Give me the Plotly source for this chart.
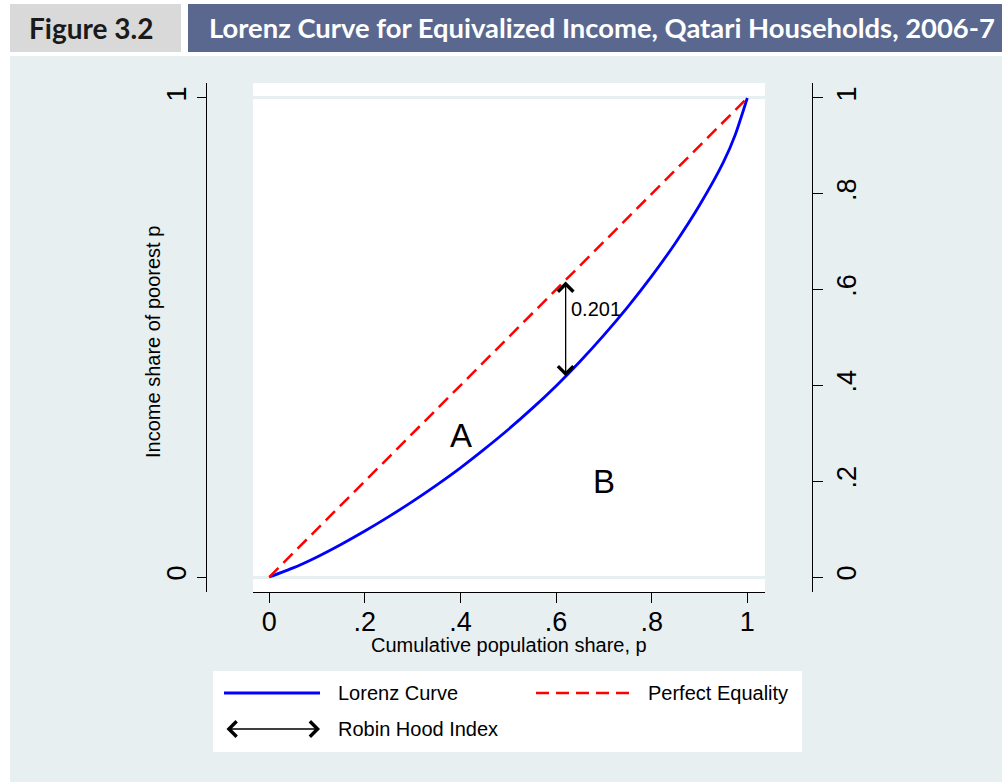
import plotly.graph_objects as go

# Lorenz curve: cumulative population share vs. cumulative income share
pop_share = [0, .05, .10, .15, .20, .25, .30, .35, .40, .45, .50, .55,
             .60, .65, .70, .75, .80, .85, .90, .95, .975, 1.0]
income_share = [0, .019, .042, .068, .096, .126, .158, .192, .228, .267, .308, .352,
                .399, .450, .505, .564, .628, .698, .776, .866, .924, 1.0]

# Line of perfect equality
equality_x = [0, 1]
equality_y = [0, 1]

# Robin Hood index: largest vertical gap between the two lines
robin_hood_p = 0.62
robin_hood_index = 0.201

# Region labels
region_labels = ["A", "B"]
region_x = [0.402, 0.70]
region_y = [0.296, 0.200]

x_ticks = [0, .2, .4, .6, .8, 1]
x_tick_labels = ["0", ".2", ".4", ".6", ".8", "1"]
left_ticks = [0, 1]
left_tick_labels = ["0", "1"]
right_ticks = [0, .2, .4, .6, .8, 1]
right_tick_labels = ["0", ".2", ".4", ".6", ".8", "1"]

fig_title = "Lorenz Curve for Equivalized Income, Qatari Households, 2006-7"
fig_number = "Figure 3.2"
x_title = "Cumulative population share, p"
y_title = "Income share of poorest p"

# Page geometry (pixels)
W, H = 1002, 782
ML, MR, MT, MB = 206, 190, 83, 190
PW, PH = W - ML - MR, H - MT - MB

def px(x):
    return (x - ML) / PW

def py(y):
    return (H - MB - y) / PH

PAGE_BG = "#e8eff1"
HEADER_GREY = "#d9d9d9"
HEADER_BLUE = "#5a6890"
FONT = "Liberation Sans, Arial, sans-serif"
HEAD_FONT = "Lato, sans-serif"
RED_DASH = "13px,7px"

fig = go.Figure()

fig.add_trace(go.Scatter(
    x=pop_share, y=income_share, mode="lines", name="Lorenz Curve",
    line=dict(color="#0000ff", width=2.8, shape="spline", smoothing=0.6),
    showlegend=False, hoverinfo="skip"))

fig.add_trace(go.Scatter(
    x=equality_x, y=equality_y, mode="lines", name="Perfect Equality",
    line=dict(color="#ff0000", width=2.5, dash=RED_DASH),
    showlegend=False, hoverinfo="skip", yaxis="y2"))

annotations = []

# Double arrow marking the Robin Hood index
annotations.append(dict(
    x=robin_hood_p, y=robin_hood_p - robin_hood_index,
    ax=robin_hood_p, ay=robin_hood_p, xref="x", yref="y", axref="x", ayref="y",
    text="", showarrow=True, arrowhead=4, startarrowhead=4, arrowside="end+start",
    arrowwidth=1.3, arrowsize=2.3, startarrowsize=2.3, arrowcolor="black"))
annotations.append(dict(
    x=robin_hood_p + 0.008, y=robin_hood_p - robin_hood_index / 2 + 0.04,
    xref="x", yref="y", text=f"{robin_hood_index:.3f}", showarrow=False,
    xanchor="left", yanchor="middle", font=dict(family=FONT, size=20, color="black")))

for lab, lx, ly in zip(region_labels, region_x, region_y):
    annotations.append(dict(x=lx, y=ly, xref="x", yref="y", text=lab, showarrow=False,
                            font=dict(family=FONT, size=33, color="black")))

# Axis titles
annotations.append(dict(x=px(153), y=py(342), xref="paper", yref="paper", text=y_title,
                        textangle=-90, showarrow=False, xanchor="center", yanchor="middle",
                        font=dict(family=FONT, size=20, color="black")))
annotations.append(dict(x=px(509), y=py(645), xref="paper", yref="paper", text=x_title,
                        showarrow=False, xanchor="center", yanchor="middle",
                        font=dict(family=FONT, size=20, color="black")))

# Header texts
annotations.append(dict(x=px(91), y=py(28), xref="paper", yref="paper", text=f"<b>{fig_number}</b>",
                        showarrow=False, xanchor="center", yanchor="middle",
                        font=dict(family=HEAD_FONT, size=28, color="#1a1a1a")))
annotations.append(dict(x=px(207), y=py(28), xref="paper", yref="paper", text=f"<b>{fig_title}</b>",
                        showarrow=False, xanchor="left", yanchor="middle",
                        font=dict(family=HEAD_FONT, size=27.4, color="white")))

# Legend entries
leg_font = dict(family=FONT, size=20, color="black")
annotations.append(dict(x=px(336), y=py(693), xref="paper", yref="paper", text=fig.data[0].name,
                        showarrow=False, xanchor="left", yanchor="middle", font=leg_font))
annotations.append(dict(x=px(646), y=py(693), xref="paper", yref="paper", text=fig.data[1].name,
                        showarrow=False, xanchor="left", yanchor="middle", font=leg_font))
annotations.append(dict(x=px(336), y=py(729), xref="paper", yref="paper", text="Robin Hood Index",
                        showarrow=False, xanchor="left", yanchor="middle", font=leg_font))
annotations.append(dict(x=px(320), y=py(729), xref="paper", yref="paper", ax=-95, ay=0,
                        text="", showarrow=True, arrowhead=4, startarrowhead=4,
                        arrowside="end+start", arrowwidth=1.3, arrowsize=2.3,
                        startarrowsize=2.3, arrowcolor="black"))

shapes = [
    # white page margins around the shaded panel
    dict(type="rect", xref="paper", yref="paper", x0=px(0), x1=px(W), y0=py(0), y1=py(56),
         fillcolor="white", line=dict(width=0), layer="above"),
    dict(type="rect", xref="paper", yref="paper", x0=px(0), x1=px(10), y0=py(0), y1=py(H),
         fillcolor="white", line=dict(width=0), layer="above"),
    # header boxes
    dict(type="rect", xref="paper", yref="paper", x0=px(10), x1=px(181), y0=py(4), y1=py(52),
         fillcolor=HEADER_GREY, line=dict(width=0), layer="above"),
    dict(type="rect", xref="paper", yref="paper", x0=px(188), x1=px(W), y0=py(4), y1=py(52),
         fillcolor=HEADER_BLUE, line=dict(width=0), layer="above"),
    # legend box and keys
    dict(type="rect", xref="paper", yref="paper", x0=px(213), x1=px(802), y0=py(671), y1=py(752),
         fillcolor="white", line=dict(width=0), layer="above"),
    dict(type="line", xref="paper", yref="paper", x0=px(224), x1=px(320), y0=py(693), y1=py(693),
         line=dict(color="#0000ff", width=2.8), layer="above"),
    dict(type="line", xref="paper", yref="paper", x0=px(536), x1=px(630), y0=py(693), y1=py(693),
         line=dict(color="#ff0000", width=2.5, dash=RED_DASH), layer="above"),
]

axis_font = dict(family=FONT, size=27, color="black")

fig.update_layout(
    width=W, height=H,
    margin=dict(l=ML, r=MR, t=MT, b=MB, pad=0),
    paper_bgcolor=PAGE_BG, plot_bgcolor="white",
    showlegend=False,
    annotations=annotations, shapes=shapes,
    xaxis=dict(
        domain=[px(253), px(765)], range=[-0.034, 1.037], anchor="y",
        tickmode="array", tickvals=x_ticks, ticktext=x_tick_labels,
        ticks="outside", ticklen=10, tickwidth=1.3, tickcolor="black",
        showline=True, linecolor="black", linewidth=1.3, ticklabelstandoff=-5,
        showgrid=False, zeroline=False, tickfont=axis_font,
    ),
    yaxis=dict(
        domain=[0, 1], range=[-0.0313, 1.0313], anchor="free", position=0,
        tickmode="array", tickvals=left_ticks, ticktext=left_tick_labels, tickangle=-90,
        ticks="outside", ticklen=9, tickwidth=1.3, tickcolor="black",
        showline=True, linecolor="black", linewidth=1.3,
        showgrid=True, gridcolor=PAGE_BG, gridwidth=3, zeroline=False, tickfont=axis_font,
    ),
    yaxis2=dict(
        range=[-0.0313, 1.0313], anchor="free", position=1, overlaying="y", side="right",
        tickmode="array", tickvals=right_ticks, ticktext=right_tick_labels, tickangle=-90,
        ticks="outside", ticklen=10, tickwidth=1.3, tickcolor="black",
        showline=True, linecolor="black", linewidth=1.3,
        showgrid=False, zeroline=False, tickfont=axis_font,
    ),
)

fig.write_html("out.html")
